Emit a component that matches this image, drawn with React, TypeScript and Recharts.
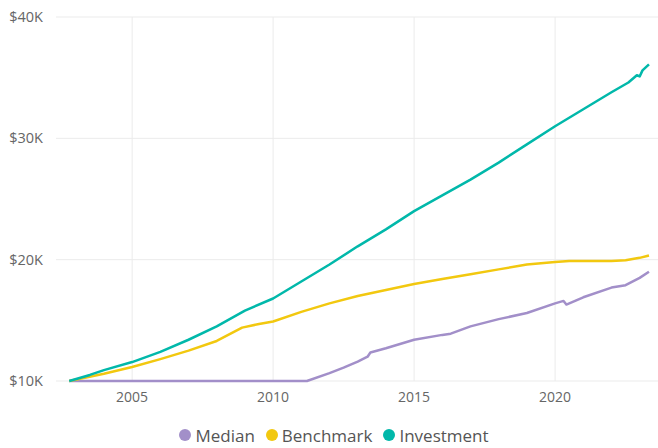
import { LineChart, Line, XAxis, YAxis, CartesianGrid, Legend } from "recharts";

const yearTicks = [2005, 2010, 2015, 2020];
const valueTicks = [10000, 20000, 30000, 40000];
const yearDomain = [2002.3, 2023.65];

const medianYears = [2002.77, 2011.2, 2012, 2012.5, 2013, 2013.35, 2013.45, 2014, 2015, 2016, 2016.3, 2017, 2018, 2019, 2020, 2020.3, 2020.4, 2021, 2022, 2022.5, 2023, 2023.33];
const medianValues = [10000, 10000, 10650, 11100, 11600, 12000, 12350, 12700, 13400, 13800, 13900, 14500, 15100, 15600, 16400, 16600, 16300, 16900, 17700, 17900, 18500, 19000];

const benchmarkYears = [2002.77, 2004, 2005, 2006, 2007, 2008, 2008.9, 2009.5, 2010, 2011, 2012, 2013, 2014, 2015, 2016, 2017, 2018, 2019, 2020, 2020.5, 2021, 2022, 2022.5, 2023, 2023.33];
const benchmarkValues = [10000, 10600, 11150, 11800, 12500, 13300, 14400, 14700, 14900, 15700, 16400, 17000, 17500, 18000, 18400, 18800, 19200, 19600, 19800, 19900, 19900, 19900, 19950, 20150, 20350];

const investmentYears = [2002.77, 2003.5, 2004, 2005, 2006, 2007, 2008, 2009, 2010, 2011, 2012, 2013, 2014, 2015, 2016, 2017, 2018, 2019, 2020, 2021, 2022, 2022.6, 2022.9, 2023, 2023.1, 2023.33];
const investmentValues = [10000, 10500, 10900, 11560, 12400, 13400, 14500, 15800, 16800, 18200, 19600, 21100, 22500, 24000, 25300, 26600, 28000, 29500, 31000, 32400, 33800, 34600, 35200, 35100, 35600, 36100];

const zip = (xs: number[], ys: number[]) => xs.map((x, i) => ({ year: x, value: ys[i] }));

const series = [
  { name: "Median", color: "#a28fc9", data: zip(medianYears, medianValues) },
  { name: "Benchmark", color: "#f2c80f", data: zip(benchmarkYears, benchmarkValues) },
  { name: "Investment", color: "#01b8aa", data: zip(investmentYears, investmentValues) },
];

const font = "'Segoe UI', 'Open Sans', sans-serif";

const LegendContent = () => (
  <div style={{ height: 26, display: "flex", justifyContent: "center", alignItems: "center", fontFamily: font, fontSize: 17, color: "#555", paddingLeft: 10 }}>
    {series.map((s, i) => (
      <span key={s.name} style={{ display: "inline-flex", alignItems: "center", marginRight: i < series.length - 1 ? 11 : 0 }}>
        <span style={{ width: 12, height: 12, borderRadius: "50%", background: s.color, display: "inline-block", marginRight: 4 }} />
        {s.name}
      </span>
    ))}
  </div>
);

// vertical grid lines only at the year ticks (none at the plot edges)
const verticalLines = ({ offset }: any) => {
  if (!offset) return [];
  const [d0, d1] = yearDomain;
  return yearTicks.map(t => offset.left + ((t - d0) / (d1 - d0)) * offset.width);
};

export default function App() {
  return (
    <div style={{ position: "absolute", left: 0, top: 0, width: 658, height: 448, background: "#fff" }}>
      <LineChart width={658} height={448} margin={{ top: 17, right: 0, left: 0, bottom: 0 }}>
        <CartesianGrid stroke="#ebebeb" strokeWidth={1} verticalCoordinatesGenerator={verticalLines} />
        <XAxis
          dataKey="year" type="number" domain={yearDomain} ticks={yearTicks}
          axisLine={false} tickLine={false} tickSize={0} tickMargin={11} height={41}
          tick={{ fill: "#666", fontSize: 14, fontFamily: font }} allowDuplicatedCategory={false}
        />
        <YAxis
          type="number" domain={[10000, 40000]} ticks={valueTicks} width={56}
          axisLine={false} tickLine={false} tickSize={0} tickMargin={13}
          tick={{ fill: "#666", fontSize: 14.5, fontFamily: font }}
          tickFormatter={v => `$${v / 1000}K`}
        />
        <Legend verticalAlign="bottom" content={<LegendContent />} />
        {series.map(s => (
          <Line
            key={s.name} data={s.data} dataKey="value" name={s.name} type="linear"
            stroke={s.color} strokeWidth={2.5} dot={false} isAnimationActive={false}
            strokeLinejoin="round"
          />
        ))}
      </LineChart>
    </div>
  );
}
